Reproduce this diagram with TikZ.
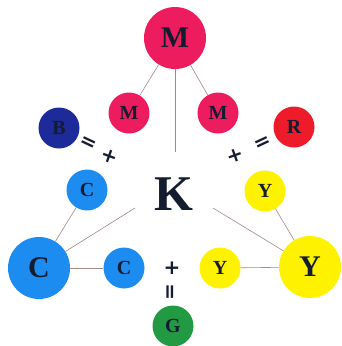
\documentclass[tikz,border=0pt]{standalone}
\usepackage{fontspec}
\setmainfont{Liberation Serif}
\newfontfamily\symfont{DejaVu Sans}
\definecolor{cM}{HTML}{EC1C5E}
\definecolor{cR}{HTML}{EE1C2A}
\definecolor{cB}{HTML}{1C2A9A}
\definecolor{cC}{HTML}{1C8CF0}
\definecolor{cY}{HTML}{FFF200}
\definecolor{cG}{HTML}{229A44}
\definecolor{ink}{HTML}{141C30}
\definecolor{lnk}{HTML}{A08A8A}
\tikzset{
  dot/.style={circle, inner sep=0pt, text=ink, font=\bfseries\fontsize{20}{20}\selectfont},
  bigdot/.style={dot, minimum size=62pt, font=\bfseries\fontsize{30}{30}\selectfont},
  smalldot/.style={dot, minimum size=41pt},
  link/.style={draw=lnk, line width=0.6pt},
  sym/.style={text=ink, inner sep=0pt, font=\symfont\bfseries\fontsize{20}{20}\selectfont}
}
\begin{document}
\begin{tikzpicture}[x=1pt,y=-1pt]
\useasboundingbox (0,0) rectangle (341,346);
\node[bigdot, fill=cM] (Mbig) at (175,38) {M};
\node[smalldot, fill=cM] (Ml) at (129,113) {M};
\node[smalldot, fill=cM] (Mr) at (218,113) {M};
\node[smalldot, fill=cB] (B) at (59,128) {B};
\node[smalldot, fill=cR] (R) at (294,127) {R};
\node[smalldot, fill=cC] (Ct) at (87,190) {C};
\node[bigdot, fill=cC] (Cbig) at (39,268) {C};
\node[smalldot, fill=cC] (Cr) at (124,268) {C};
\node[smalldot, fill=cY] (Yt) at (265,191) {Y};
\node[bigdot, fill=cY] (Ybig) at (310,267) {Y};
\node[smalldot, fill=cY] (Yl) at (220,268) {Y};
\node[smalldot, fill=cG] (G) at (173,326) {G};
\node[text=ink, inner sep=0pt, font=\bfseries\fontsize{50}{50}\selectfont] (K) at (174,194) {K};
\coordinate (kt) at (175,152);
\coordinate (kl) at (135,208);
\coordinate (kr) at (213,208);
% signs
\node[sym, rotate=-25] (eqB) at (88,144) {=};
\node[sym, rotate=-20] (plB) at (110,156) {+};
\node[sym, rotate=20] (plR) at (235,156) {+};
\node[sym, rotate=25] (eqR) at (263,144) {=};
\node[sym] (plG) at (172,268) {+};
\node[sym, rotate=90] (eqG) at (172,292) {=};
% links
\draw[link] (Mbig) -- (Ml);
\draw[link] (Mbig) -- (Mr);
\draw[link] (Mbig) -- (kt);
\draw[link] (Ct) -- (Cbig);
\draw[link] (Cbig) -- (Cr);
\draw[link] (kl) -- (Cbig);
\draw[link] (Yt) -- (Ybig);
\draw[link] (Yl) -- (Ybig);
\draw[link] (kr) -- (Ybig);
\end{tikzpicture}
\end{document}
